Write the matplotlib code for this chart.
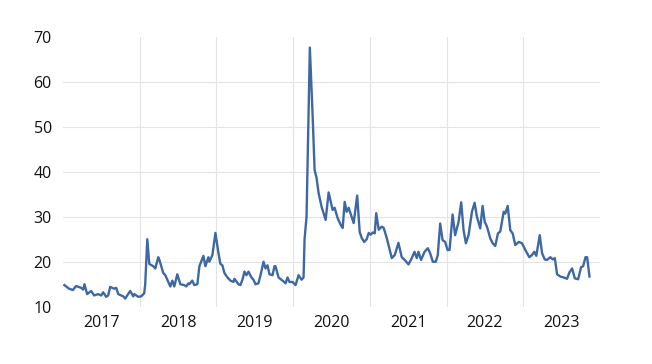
import matplotlib
matplotlib.use("Agg")
import matplotlib.pyplot as plt
import numpy as np
from matplotlib.ticker import FixedLocator, NullFormatter, FixedFormatter

# decimal years
t_years = [
    2017.018, 2017.080, 2017.128, 2017.171, 2017.236, 2017.263, 2017.280, 2017.315,
    2017.367, 2017.406, 2017.458, 2017.498, 2017.524, 2017.563, 2017.589, 2017.615,
    2017.667, 2017.694, 2017.720, 2017.785, 2017.811, 2017.837, 2017.876, 2017.916,
    2017.929, 2017.981,
    2018.020, 2018.059, 2018.072, 2018.099, 2018.125, 2018.177, 2018.203, 2018.242,
    2018.255, 2018.307, 2018.334, 2018.373, 2018.399, 2018.425, 2018.451, 2018.490,
    2018.530, 2018.582, 2018.608, 2018.634, 2018.647, 2018.686, 2018.712, 2018.752,
    2018.778, 2018.830, 2018.856, 2018.895, 2018.908, 2018.948, 2018.987,
    2019.026, 2019.052, 2019.078, 2019.104, 2019.144, 2019.183, 2019.222, 2019.235,
    2019.287, 2019.313, 2019.339, 2019.366, 2019.392, 2019.418, 2019.457, 2019.483,
    2019.509, 2019.548, 2019.575, 2019.614, 2019.640, 2019.666, 2019.692, 2019.731,
    2019.757, 2019.770, 2019.810, 2019.862, 2019.901, 2019.927, 2019.953, 2019.993,
    2020.032, 2020.071, 2020.110, 2020.136, 2020.149, 2020.175, 2020.218, 2020.254,
    2020.280, 2020.306, 2020.332, 2020.371, 2020.424, 2020.463, 2020.515, 2020.541,
    2020.580, 2020.620, 2020.646, 2020.672, 2020.698, 2020.724, 2020.763, 2020.789,
    2020.835, 2020.868, 2020.894, 2020.926, 2020.959, 2020.985,
    2021.011, 2021.037, 2021.064, 2021.083, 2021.116, 2021.155, 2021.181, 2021.220,
    2021.253, 2021.286, 2021.325, 2021.373, 2021.416, 2021.455, 2021.504, 2021.547,
    2021.582, 2021.612, 2021.634, 2021.668, 2021.713, 2021.756, 2021.786, 2021.821,
    2021.860, 2021.886, 2021.917, 2021.948, 2021.982,
    2022.013, 2022.039, 2022.079, 2022.112, 2022.157, 2022.191, 2022.222, 2022.252,
    2022.287, 2022.331, 2022.366, 2022.396, 2022.439, 2022.470, 2022.497, 2022.527,
    2022.570, 2022.601, 2022.635, 2022.670, 2022.700, 2022.745, 2022.766, 2022.797,
    2022.831, 2022.862, 2022.896, 2022.941, 2022.984,
    2023.027, 2023.079, 2023.114, 2023.144, 2023.170, 2023.215, 2023.245, 2023.280,
    2023.310, 2023.353, 2023.385, 2023.411, 2023.441, 2023.484, 2023.528, 2023.571,
    2023.601, 2023.637, 2023.672, 2023.715, 2023.754, 2023.781, 2023.811, 2023.833,
    2023.863,
]

level = [
    14.8, 14.0, 13.7, 14.6, 14.2, 13.8, 15.0, 12.8,
    13.5, 12.5, 12.8, 12.5, 13.2, 12.2, 12.5, 14.4,
    14.0, 14.2, 12.8, 12.3, 11.8, 12.5, 13.5, 12.3,
    12.8, 12.2,
    12.3, 13.0, 15.0, 25.0, 19.5, 19.0, 18.5, 21.0,
    20.5, 17.5, 17.0, 15.5, 14.5, 15.8, 14.5, 17.2,
    15.0, 14.8, 14.5, 15.2, 15.0, 15.8, 14.8, 15.0,
    19.0, 21.3, 19.0, 21.0, 20.0, 21.5, 26.4,
    22.0, 19.5, 19.2, 17.5, 16.5, 15.8, 15.5, 16.2,
    15.0, 14.8, 16.0, 17.8, 17.0, 17.8, 16.5, 16.0,
    15.0, 15.2, 17.0, 20.0, 18.5, 19.2, 17.2, 17.0,
    19.0, 19.0, 16.5, 15.8, 15.2, 16.5, 15.5, 15.5,
    14.8, 17.0, 16.0, 16.5, 25.0, 30.0, 67.6, 52.6,
    40.4, 38.6, 35.3, 32.2, 29.3, 35.4, 31.5, 32.0,
    29.7, 28.2, 27.5, 33.3, 31.1, 32.0, 30.0, 28.6,
    34.7, 26.6, 25.3, 24.4, 25.0, 26.4,
    26.0, 26.5, 26.3, 30.8, 27.1, 27.8, 27.5, 25.3,
    23.0, 20.8, 21.5, 24.2, 21.0, 20.4, 19.4, 20.8,
    22.2, 20.8, 22.2, 20.4, 22.2, 23.0, 21.9, 20.0,
    20.0, 21.5, 28.5, 24.8, 24.4,
    22.6, 22.6, 30.5, 25.9, 28.9, 33.2, 27.0, 24.1,
    25.9, 31.1, 33.1, 30.0, 27.4, 32.4, 28.9, 27.8,
    25.2, 24.1, 23.5, 26.3, 26.7, 31.1, 30.7, 32.4,
    27.0, 26.3, 23.7, 24.4, 24.1,
    22.6, 21.0, 21.5, 22.2, 21.3, 25.9, 21.9, 20.5,
    20.4, 21.0, 20.5, 20.8, 17.2, 16.7, 16.5, 16.2,
    17.6, 18.5, 16.3, 16.1, 18.8, 19.0, 21.0, 21.0,
    16.7,
]

years = [2017, 2018, 2019, 2020, 2021, 2022, 2023]

plt.rcParams['font.family'] = ['Open Sans', 'DejaVu Sans']

fig = plt.figure(figsize=(6.52, 3.64), dpi=100)
ax = fig.add_axes([0.0966, 0.1574, 0.8236, 0.7416])

ax.plot(t_years, level, color='#3d68a4', linewidth=1.7, solid_joinstyle='round')

ax.set_xlim(years[0], years[-1] + 1)
ax.set_ylim(10, 70)

# year boundaries as gridlines, labels centred inside each year
ax.xaxis.set_major_locator(FixedLocator(years[1:]))
ax.xaxis.set_major_formatter(NullFormatter())
ax.xaxis.set_minor_locator(FixedLocator([y + 0.5 for y in years]))
ax.xaxis.set_minor_formatter(FixedFormatter([str(y) for y in years]))
ax.tick_params(axis='x', which='both', length=0)
ax.tick_params(axis='x', which='minor', pad=6, labelsize=11.5, labelcolor='#111111')

ax.set_yticks(np.arange(10, 71, 10))
ax.tick_params(axis='y', length=0, pad=8, labelsize=11.5, labelcolor='#111111')

ax.grid(True, which='major', color='#e3e3e3', linewidth=0.8)
ax.set_axisbelow(True)
gl = ax.yaxis.get_gridlines()
gl[0].set_visible(False)
gl[-1].set_visible(False)

for s in ax.spines.values():
    s.set_visible(False)

fig.savefig('out.png', dpi=100)
